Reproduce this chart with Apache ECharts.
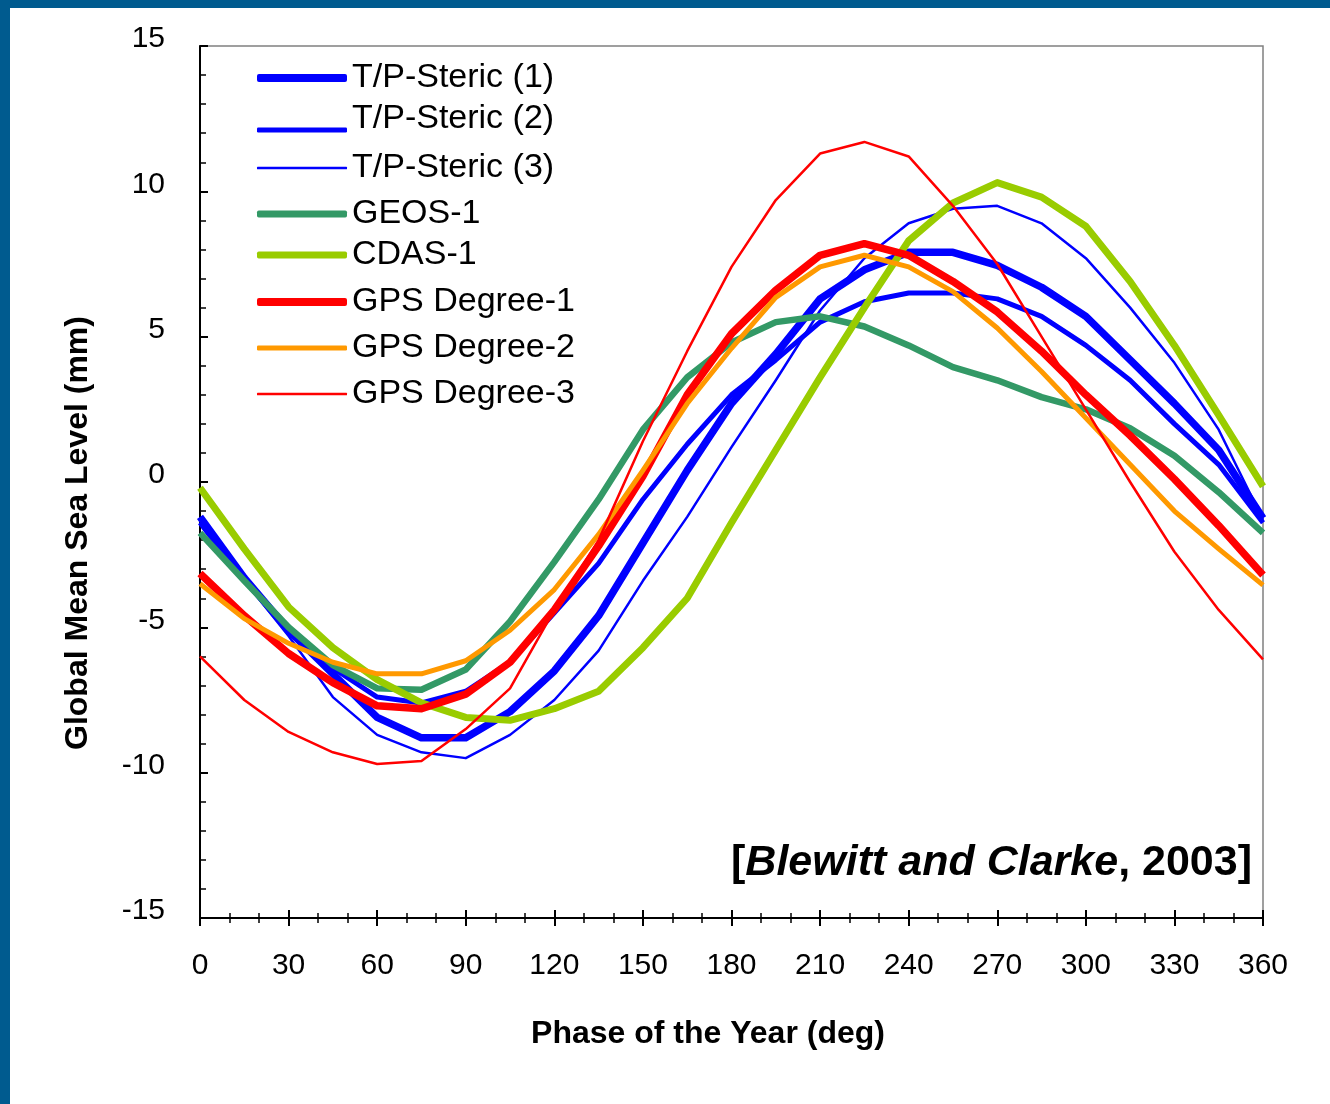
<!DOCTYPE html>
<html>
<head>
<meta charset="utf-8">
<script src="https://cdn.jsdelivr.net/npm/echarts@6/dist/echarts.min.js"></script>
<style>
html,body{margin:0;padding:0;background:#fff;}
#chart{width:1330px;height:1104px;}
</style>
</head>
<body>
<div id="chart"></div>
<script>
// Phase of the year (deg)
var phase = [0,15,30,45,60,75,90,105,120,135,150,165,180,195,210,225,240,255,270,285,300,315,330,345,360];
var tpSteric1 = [-1.2,-3.3,-5.1,-6.6,-8.1,-8.8,-8.8,-7.9,-6.5,-4.6,-2.1,0.4,2.7,4.4,6.3,7.3,7.9,7.9,7.45,6.7,5.7,4.2,2.7,1.1,-1.25];
var tpSteric2 = [-1.4,-3.4,-5.0,-6.4,-7.4,-7.6,-7.2,-6.2,-4.5,-2.8,-0.6,1.3,3.0,4.2,5.5,6.2,6.5,6.5,6.3,5.7,4.7,3.5,2.0,0.6,-1.4];
var tpSteric3 = [-1.4,-3.4,-5.3,-7.4,-8.7,-9.3,-9.5,-8.7,-7.5,-5.8,-3.4,-1.2,1.2,3.5,5.9,7.7,8.9,9.4,9.5,8.9,7.7,6.0,4.1,1.8,-1.3];
var geos1 = [-1.75,-3.4,-5.0,-6.3,-7.1,-7.15,-6.45,-4.8,-2.75,-0.6,1.8,3.6,4.8,5.5,5.7,5.35,4.7,3.95,3.5,2.92,2.5,1.85,0.9,-0.35,-1.75];
var cdas1 = [-0.2,-2.3,-4.3,-5.7,-6.8,-7.6,-8.1,-8.2,-7.8,-7.2,-5.7,-4.0,-1.4,1.1,3.6,6.0,8.3,9.6,10.3,9.8,8.8,6.9,4.7,2.3,-0.15];
var gpsDeg1 = [-3.15,-4.6,-5.9,-6.9,-7.7,-7.8,-7.3,-6.2,-4.4,-2.2,0.2,3.0,5.1,6.6,7.8,8.2,7.8,6.9,5.85,4.5,3.0,1.6,0.1,-1.5,-3.2];
var gpsDeg2 = [-3.5,-4.7,-5.55,-6.2,-6.6,-6.6,-6.15,-5.1,-3.7,-1.8,0.4,2.7,4.6,6.35,7.4,7.8,7.4,6.55,5.3,3.8,2.2,0.6,-1.0,-2.3,-3.55];
var gpsDeg3 = [-6.0,-7.5,-8.6,-9.3,-9.7,-9.6,-8.5,-7.1,-4.4,-2.0,1.4,4.5,7.4,9.7,11.3,11.7,11.2,9.5,7.5,5.0,2.5,0.0,-2.4,-4.4,-6.1];

var seriesNames = ['T/P-Steric (1)','T/P-Steric (2)','T/P-Steric (3)','GEOS-1','CDAS-1','GPS Degree-1','GPS Degree-2','GPS Degree-3'];
var seriesValues = [tpSteric1,tpSteric2,tpSteric3,geos1,cdas1,gpsDeg1,gpsDeg2,gpsDeg3];
var xTicks = [0,30,60,90,120,150,180,210,240,270,300,330,360];
var yTicks = [-15,-10,-5,0,5,10,15];

var colors = ['#0000ff','#0000ff','#0000ff','#339966','#99cc00','#ff0000','#ff9900','#ff0000'];
var widths = [7.5,5,2.5,6.5,7,7.5,5,2.5];
var legendCenters = [78,130,168,214,255,302,348,394];
var legendWidths = [8,5,2.5,7,7,8,5,2.5];
var legendTextRaise = [0,11,0,0,0,0,0,0];

var FONT = "'Liberation Sans', Arial, Helvetica, sans-serif";

var series = seriesNames.map(function(n, i){
  return {
    name: n, type: 'line', symbol: 'none', smooth: false,
    lineStyle: {color: colors[i], width: widths[i], join: 'round'},
    itemStyle: {color: colors[i]},
    data: phase.map(function(p, k){ return [p, seriesValues[i][k]]; }),
    z: 2 + i
  };
});

var legends = seriesNames.map(function(n, i){
  var r = legendTextRaise[i];
  return {
    data: [n], orient: 'vertical', left: 257, top: legendCenters[i] - 17 - r,
    padding: 0, itemWidth: 90, itemHeight: legendWidths[i], icon: 'roundRect',
    selectedMode: false,
    formatter: function(name){ return '{t|' + name + '}'; },
    textStyle: {
      fontSize: 34, fontFamily: FONT, color: '#000',
      rich: {t: {fontSize: 34, fontFamily: FONT, color: '#000', lineHeight: 40, padding: [0, 0, 2 * r, 0]}}
    }
  };
});

var chart = echarts.init(document.getElementById('chart'), null, {renderer: 'canvas'});
chart.setOption({
  animation: false,
  backgroundColor: '#ffffff',
  graphic: [
    {type: 'rect', shape: {x: 0, y: 0, width: 1330, height: 8}, style: {fill: '#005b8f'}, z: 100},
    {type: 'rect', shape: {x: 0, y: 0, width: 10, height: 1104}, style: {fill: '#005b8f'}, z: 100}
  ],
  title: {
    text: '{a|[}{b|Blewitt and Clarke}{a|, 2003]}',
    right: 78, top: 842, padding: 0,
    textStyle: {
      rich: {
        a: {fontSize: 43, fontWeight: 'bold', fontFamily: FONT, color: '#000'},
        b: {fontSize: 43, fontWeight: 'bold', fontStyle: 'italic', fontFamily: FONT, color: '#000'}
      }
    }
  },
  legend: legends,
  grid: {left: 200, top: 46, right: 67, bottom: 186, show: true, borderColor: '#808080', borderWidth: 1.5, backgroundColor: 'transparent'},
  xAxis: [
    {
      type: 'value', min: 0, max: 360, interval: 30, position: 'bottom',
      name: 'Phase of the Year (deg)', nameLocation: 'middle', nameGap: 100,
      nameTextStyle: {fontSize: 32, fontWeight: 'bold', fontFamily: FONT, color: '#000', padding: [0, 47, 0, 0]},
      axisLine: {show: true, onZero: false, lineStyle: {color: '#000', width: 2}},
      axisTick: {show: true, inside: true, length: 8, lineStyle: {color: '#000', width: 2}},
      minorTick: {show: true, splitNumber: 3, length: 5, lineStyle: {color: '#000', width: 1.5}},
      axisLabel: {
        show: true, margin: 33, fontSize: 30, fontFamily: FONT, color: '#000',
        customValues: xTicks,
        formatter: function(v){ return String(v); }
      },
      splitLine: {show: false}
    },
    {
      type: 'value', min: 0, max: 360, interval: 30, position: 'bottom',
      axisLine: {show: false, onZero: false},
      axisTick: {show: true, inside: false, length: 8, lineStyle: {color: '#000', width: 2}},
      minorTick: {show: true, splitNumber: 3, length: 5, lineStyle: {color: '#000', width: 1.5}},
      axisLabel: {show: false},
      splitLine: {show: false}
    }
  ],
  yAxis: {
    type: 'value', min: -15, max: 15, interval: 5,
    name: 'Global Mean Sea Level (mm)', nameLocation: 'middle', nameGap: 106,
    nameTextStyle: {fontSize: 32, fontWeight: 'bold', fontFamily: FONT, color: '#000', padding: [0, 102, 0, 0]},
    axisLine: {show: true, onZero: false, lineStyle: {color: '#000', width: 2}},
    axisTick: {show: true, inside: true, length: 8, lineStyle: {color: '#000', width: 2}},
    minorTick: {show: true, splitNumber: 5, length: 6, lineStyle: {color: '#000', width: 1.5}},
    axisLabel: {
      show: true, margin: 35, color: '#000',
      customValues: yTicks,
      formatter: function(v){ return '{t|' + v + '}'; },
      rich: {t: {fontSize: 30, fontFamily: FONT, color: '#000', padding: [0, 0, 14, 0]}}
    },
    splitLine: {show: false}
  },
  series: series
});
</script>
</body>
</html>
